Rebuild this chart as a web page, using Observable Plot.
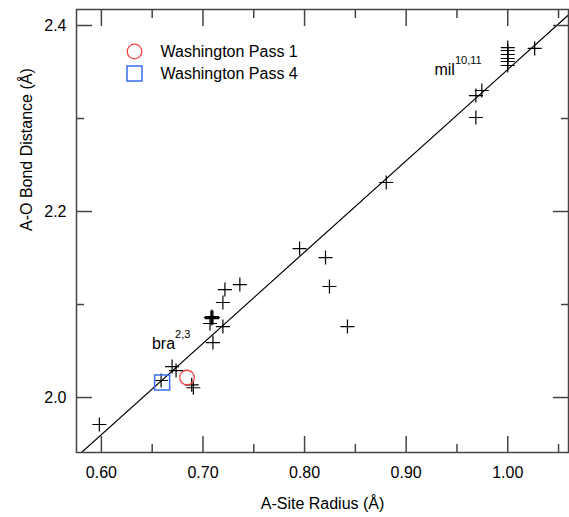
<!DOCTYPE html>
<html><head><meta charset="utf-8">
<script src="https://cdn.jsdelivr.net/npm/d3@7"></script>
<script src="https://cdn.jsdelivr.net/npm/@observablehq/plot@0.6"></script>
<style>body{margin:0;background:#fff}</style>
</head><body><div id="chart"></div>
<script>
// Literature data (crosses)
const crossRadius = [0.598, 0.6588, 0.6696, 0.6735, 0.6889, 0.6905,
  0.7078, 0.7088, 0.7098, 0.7088, 0.7069, 0.7098, 0.7196, 0.7196, 0.7216, 0.7363,
  0.7951, 0.8206, 0.8245, 0.8422, 0.8804, 0.9686, 0.9745, 0.9686, 1.0265,
  1.000, 1.000, 1.000, 1.000, 1.000, 1.000];
const crossDistance = [1.971, 2.0183, 2.0333, 2.029, 2.0137, 2.0105,
  2.086, 2.0849, 2.086, 2.087, 2.0796, 2.0591, 2.0763, 2.1022, 2.1161, 2.1215,
  2.1602, 2.1505, 2.1194, 2.0763, 2.2312, 2.3247, 2.3301, 2.3011, 2.3753,
  2.3763, 2.3731, 2.3688, 2.3645, 2.3613, 2.3570];
// Washington Pass samples
const wp1Radius = [0.6843], wp1Distance = [2.0215];
const wp4Radius = [0.6598], wp4Distance = [2.0161];
const legendNames = ["Washington Pass 1", "Washington Pass 4"];
// Annotations
const noteBase = ["bra", "mil"];
const noteSup = ["2,3", "10,11"];
const noteRadius = [0.6725, 0.948];
const noteDistance = [2.0527, 2.3473];
// Fit line
const fitSlope = 0.9815, fitIntercept = 1.3712;
// Axes
const xDomain = [0.5755, 1.0598], yDomain = [1.9409, 2.4172];
const xMajor = [0.6, 0.7, 0.8, 0.9, 1.0], xMinor = [0.65, 0.75, 0.85, 0.95, 1.05];
const yMajor = [2.0, 2.2, 2.4], yMinor = [2.1, 2.3];

const crosses = crossRadius.map((r, i) => ({r, d: crossDistance[i]}));
const wp1 = wp1Radius.map((r, i) => ({r, d: wp1Distance[i]}));
const wp4 = wp4Radius.map((r, i) => ({r, d: wp4Distance[i]}));
const notes = noteBase.map((t, i) => ({t, s: noteSup[i], r: noteRadius[i], d: noteDistance[i]}));
const fit = xDomain.map(x => ({r: x, d: fitIntercept + fitSlope * x}));

const tickColor = "#444";
const font = "Liberation Sans, Arial, sans-serif";
const tickAxes = [];
for (const anchor of ["bottom", "top"]) {
  tickAxes.push(Plot.axisX(xMajor, {anchor, tickSize: -16, fill: "none", stroke: tickColor, strokeWidth: 1.5, label: null}));
  tickAxes.push(Plot.axisX(xMinor, {anchor, tickSize: -8, fill: "none", stroke: tickColor, strokeWidth: 1.5, label: null}));
}
for (const anchor of ["left", "right"]) {
  tickAxes.push(Plot.axisY(yMajor, {anchor, tickSize: -16, fill: "none", stroke: tickColor, strokeWidth: 1.5, label: null}));
  tickAxes.push(Plot.axisY(yMinor, {anchor, tickSize: -8, fill: "none", stroke: tickColor, strokeWidth: 1.5, label: null}));
}

const chart = Plot.plot({
  width: 569, height: 517,
  marginLeft: 76, marginRight: 1, marginTop: 9, marginBottom: 65,
  style: {fontFamily: font, fontSize: "16px", background: "white", color: "black"},
  x: {domain: xDomain},
  y: {domain: yDomain},
  marks: [
    Plot.line(fit, {x: "r", y: "d", stroke: "black", strokeWidth: 1.2, clip: true}),
    Plot.dot(crosses, {x: "r", y: "d", symbol: "plus", r: 4.6, stroke: "black", strokeWidth: 1.2}),
    Plot.dot(wp1, {x: "r", y: "d", symbol: "circle", r: 7.3, stroke: "#f04545", strokeWidth: 1.3, fill: "none"}),
    Plot.dot(wp4, {x: "r", y: "d", symbol: "square2", r: 9.55, stroke: "#3a6cf0", strokeWidth: 1.5, fill: "none"}),
    Plot.text(notes, {x: "r", y: "d", text: "t", textAnchor: "end", lineAnchor: "bottom", fontSize: 16, fill: "black"}),
    Plot.text(notes, {x: "r", y: "d", text: "s", textAnchor: "start", lineAnchor: "bottom", dy: -11, fontSize: 11, fill: "black"}),
    // legend
    Plot.dot([legendNames[0]], {frameAnchor: "top-left", dx: 58, dy: 42, symbol: "circle", r: 7.3, stroke: "#f04545", strokeWidth: 1.3, fill: "none"}),
    Plot.dot([legendNames[1]], {frameAnchor: "top-left", dx: 58, dy: 64, symbol: "square2", r: 9.55, stroke: "#3a6cf0", strokeWidth: 1.5, fill: "none"}),
    Plot.text([legendNames[0]], {frameAnchor: "top-left", dx: 84, dy: 42, text: d => d, textAnchor: "start", lineAnchor: "middle", fontSize: 16, fill: "black"}),
    Plot.text([legendNames[1]], {frameAnchor: "top-left", dx: 84, dy: 64, text: d => d, textAnchor: "start", lineAnchor: "middle", fontSize: 16, fill: "black"}),
    // axes labels
    Plot.axisX(xMajor, {anchor: "bottom", tickSize: 0, tickPadding: 14, tickFormat: ".2f", fontSize: 16, label: null}),
    Plot.axisY(yMajor, {anchor: "left", tickSize: 0, tickPadding: 10, tickFormat: ".1f", fontSize: 16, label: null}),
    Plot.text(["A-Site Radius (Å)"], {frameAnchor: "bottom", dy: 56, text: d => d, lineAnchor: "bottom", fontSize: 16, fill: "black"}),
    Plot.text(["A-O Bond Distance (Å)"], {frameAnchor: "left", dx: -50, rotate: -90, text: d => d, lineAnchor: "middle", fontSize: 16, fill: "black"}),
    ...tickAxes,
    Plot.frame({stroke: tickColor, strokeWidth: 1.5})
  ]
});
document.getElementById("chart").append(chart);
</script>
</body></html>
